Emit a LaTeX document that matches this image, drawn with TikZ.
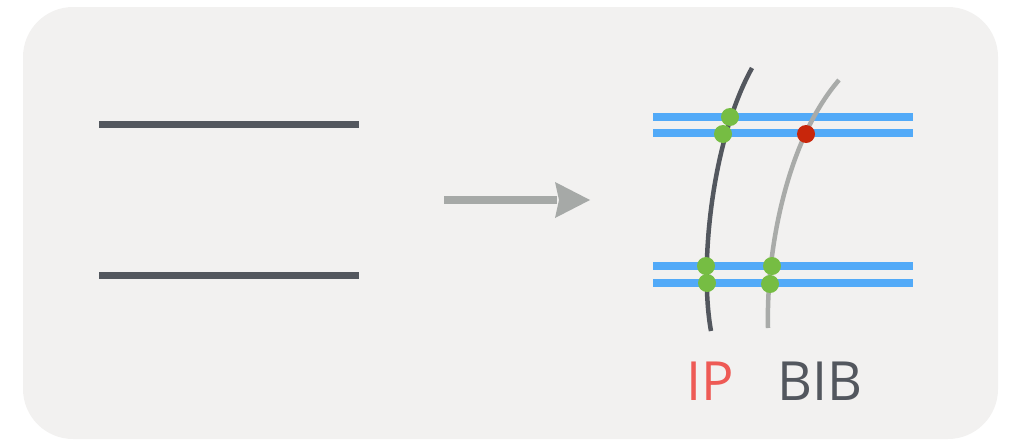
\documentclass[tikz,border=0pt]{standalone}
\usepackage{fontspec}
\setmainfont{Open Sans}
\definecolor{panel}{HTML}{F2F1F0}
\definecolor{ink}{HTML}{53575E}
\definecolor{arrowgray}{HTML}{A6A9A7}
\definecolor{lightcurve}{HTML}{A9ABA9}
\definecolor{sky}{HTML}{52AAF8}
\definecolor{leaf}{HTML}{76BD43}
\definecolor{brick}{HTML}{C8260B}
\definecolor{coral}{HTML}{EE5A55}
\tikzset{
  strand/.style={line width=7pt, ink},
  band/.style={line width=7.5pt, sky},
  dot/.style={circle, inner sep=0pt, minimum size=18pt, fill=leaf},
  baddot/.style={dot, fill=brick},
  label/.style={font=\fontsize{54}{54}\selectfont, inner sep=0pt, anchor=base},
}
\begin{document}
\begin{tikzpicture}[x=1pt, y=-1pt]
  \useasboundingbox (0,0) rectangle (1011,439);
  \fill[panel, rounded corners=50pt] (23,7) rectangle (998,439);

  % input: two plain strands
  \coordinate (a1) at (99,124);  \coordinate (a2) at (359,124);
  \coordinate (b1) at (99,275);  \coordinate (b2) at (359,275);
  \draw[strand] (a1) -- (a2);
  \draw[strand] (b1) -- (b2);

  % transformation arrow
  \coordinate (s) at (444,200);
  \coordinate (t) at (557,200);
  \coordinate (tip) at (590,200);
  \draw[line width=8pt, arrowgray] (s) -- (t);
  \fill[arrowgray] (tip) -- (555,182) -- (559,200) -- (555,218) -- cycle;

  % paired strands
  \coordinate (u1) at (653,117); \coordinate (u2) at (913,117);
  \coordinate (v1) at (653,133); \coordinate (v2) at (913,133);
  \coordinate (w1) at (653,266); \coordinate (w2) at (913,266);
  \coordinate (z1) at (653,283); \coordinate (z2) at (913,283);
  \draw[band] (u1) -- (u2);
  \draw[band] (v1) -- (v2);
  \draw[band] (w1) -- (w2);
  \draw[band] (z1) -- (z2);

  % crossing fibres
  \coordinate (p0) at (752,68);  \coordinate (p1) at (711,331);
  \coordinate (q0) at (839,80);  \coordinate (q1) at (768,328);
  \draw[line width=4.5pt, ink] (p0) .. controls (712,140) and (699,265) .. (p1);
  \draw[line width=4.5pt, lightcurve] (q0) .. controls (787,140) and (766,250) .. (q1);

  % crossing markers
  \node[dot] (d1) at (730,117) {};
  \node[dot] (d2) at (723,134) {};
  \node[dot] (d3) at (706,266) {};
  \node[dot] (d4) at (707,283) {};
  \node[dot] (d5) at (772,266) {};
  \node[dot] (d6) at (770,284) {};
  \node[baddot] (d7) at (806,134) {};

  % labels
  \node[label, text=coral] (ip) at (710,400) {IP};
  \node[label, text=ink] (bib) at (820,400) {BIB};
\end{tikzpicture}
\end{document}
